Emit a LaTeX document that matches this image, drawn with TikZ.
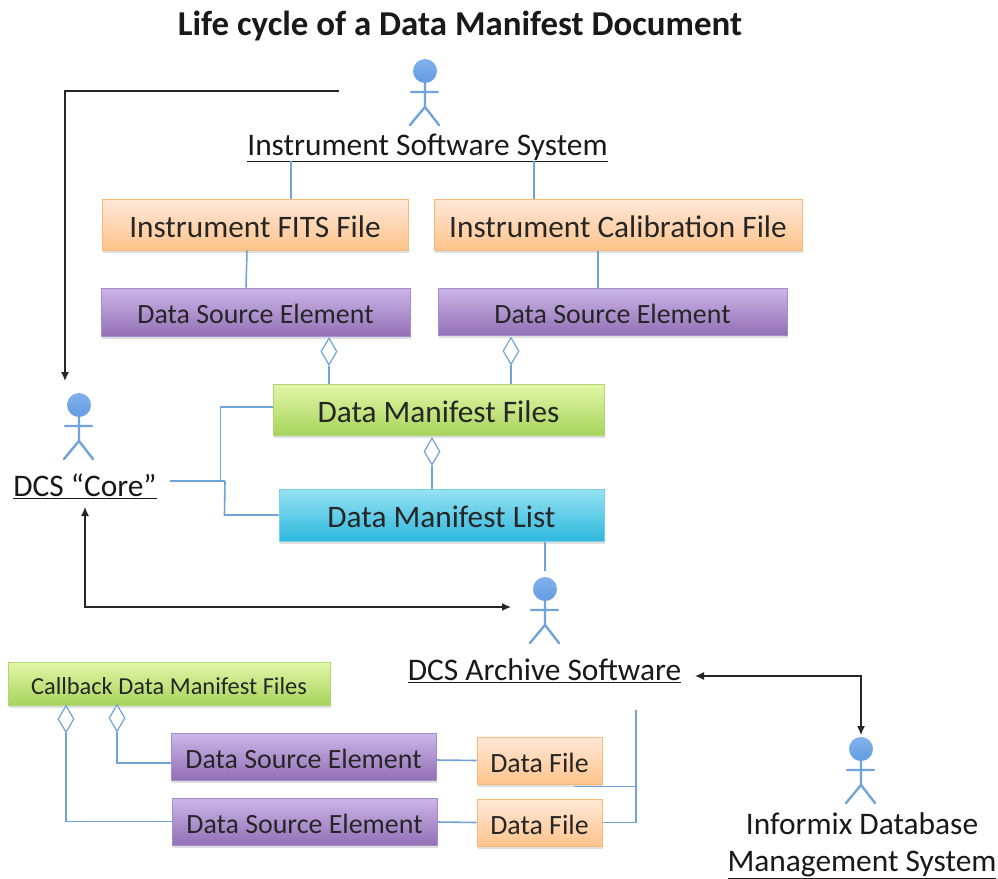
\documentclass[tikz,border=0pt]{standalone}
\usepackage{fontspec}
\setmainfont{Carlito}
\usetikzlibrary{shapes.geometric,shadows,arrows.meta}
\definecolor{lineblue}{RGB}{112,164,216}
\definecolor{headblue}{RGB}{98,156,226}
\definecolor{headtop}{RGB}{130,178,236}
\definecolor{orE}{RGB}{249,184,120}
\definecolor{orT}{RGB}{255,232,216}
\definecolor{orB}{RGB}{255,196,140}
\definecolor{puE}{RGB}{165,140,205}
\definecolor{puT}{RGB}{204,182,232}
\definecolor{puB}{RGB}{146,112,182}
\definecolor{grE}{RGB}{175,215,115}
\definecolor{grT}{RGB}{228,246,168}
\definecolor{grB}{RGB}{166,212,92}
\definecolor{cyE}{RGB}{120,210,235}
\definecolor{cyT}{RGB}{150,226,242}
\definecolor{cyB}{RGB}{46,184,222}
\tikzset{
  x=1pt,y=-1pt,
  box/.style={draw=#1,line width=1pt,rectangle,inner sep=0pt,text=black!85,
    general shadow={fill=black!35,opacity=.35,shadow xshift=0.5pt,shadow yshift=-2.5pt}},
  orangebox/.style={box=orE,top color=orT,bottom color=orB},
  purplebox/.style={box=puE,top color=puT,bottom color=puB},
  greenbox/.style={box=grE,top color=grT,bottom color=grB},
  cyanbox/.style={box=cyE,top color=cyT,bottom color=cyB},
  link/.style={draw=lineblue,line width=1.6pt},
  ctrl/.style={draw=black!85,line width=1.3pt,-{Latex[length=9pt,width=8pt]}},
  ctrltwo/.style={draw=black!85,line width=1.3pt,{Latex[length=9pt,width=8pt]}-{Latex[length=9pt,width=8pt]}},
  agg/.style={diamond,draw=lineblue,line width=1.2pt,fill=white,inner sep=0pt,minimum width=16pt,minimum height=27pt,aspect=.6},
  lbl/.style={inner sep=0pt,text=black!90,font=\fontsize{31.4}{37}\selectfont,align=center},
  boxbig/.style={font=\fontsize{31.3}{34}\selectfont,text height=25.5pt,text depth=0pt},
  boxmid/.style={font=\fontsize{27.9}{30}\selectfont,text height=23.6pt,text depth=0pt},
  boxsmall/.style={font=\fontsize{24.4}{28}\selectfont,text height=22.4pt,text depth=0pt},
  pics/actor/.style={code={
    \draw[draw=lineblue,line width=2.4pt,line cap=round] (0,12)--(0,36) (-14,21)--(13,21) (-15,54)--(0,36)--(14,54);
    \shade[top color=headtop,bottom color=headblue] (0,0) circle (12);
  }}
}
\begin{document}
\begin{tikzpicture}
\useasboundingbox (0,0) rectangle (998,878);
\fill[white] (0,0) rectangle (998,878);
\node[lbl,font=\fontsize{34.9}{36}\selectfont\bfseries] (title) at (460,25.5) {Life cycle of a Data Manifest Document};

% boxes
\node[orangebox,boxbig,minimum width=306pt,minimum height=51pt] (fits) at (255,224.5) {Instrument FITS File};
\node[orangebox,boxbig,minimum width=368pt,minimum height=51pt] (calib) at (618,224.5) {Instrument Calibration File};
\node[purplebox,boxmid,minimum width=309pt,minimum height=48pt] (dse1) at (255.5,312) {Data Source Element};
\node[purplebox,boxmid,minimum width=349pt,minimum height=47pt] (dse2) at (612.5,311.5) {Data Source Element};
\node[greenbox,boxbig,minimum width=331pt,minimum height=51pt] (dmf) at (438.5,409.5) {Data Manifest Files};
\node[cyanbox,boxbig,minimum width=325pt,minimum height=52pt] (dml) at (441.5,515) {Data Manifest List};
\node[greenbox,boxsmall,minimum width=322pt,minimum height=43pt] (cb) at (169,683.5) {Callback Data Manifest Files};
\node[purplebox,boxmid,minimum width=265pt,minimum height=47pt] (dse3) at (303.5,756.5) {Data Source Element};
\node[purplebox,boxmid,minimum width=265pt,minimum height=47pt] (dse4) at (304.5,821.5) {Data Source Element};
\node[orangebox,boxmid,minimum width=125pt,minimum height=47pt] (df1) at (539.5,760.5) {Data File};
\node[orangebox,boxmid,minimum width=125pt,minimum height=47pt] (df2) at (539.5,822.5) {Data File};

% actors
\pic at (425,71) {actor};
\pic at (79,405) {actor};
\pic at (545,589) {actor};
\pic at (861,749) {actor};

% labels
\node[lbl] (iss) at (427.5,148) {\underline{Instrument Software System}};
\node[lbl] (core) at (85,486.5) {\underline{DCS “Core”}};
\node[lbl] (arch) at (544.5,670.5) {\underline{DCS Archive Software}};
\node[lbl] (info) at (862,845.5) {Informix Database\\\underline{Management System}};

% free ends
\coordinate (isstail) at (339,91);
\coordinate (coretip) at (65,381);
\coordinate (archtop) at (545,571);
\coordinate (archleft) at (511,607);
\coordinate (coreup) at (85,507);
\coordinate (archright) at (695,676);
\coordinate (infotop) at (861,735);
\coordinate (coreright) at (170,481);
\coordinate (busj) at (225,481);
\coordinate (bustop) at (636,710);

% blue connectors
\draw[link] ([xshift=36pt]fits.north) -- ++(0,-38);
\draw[link] ([xshift=-84pt]calib.north) -- ++(0,-38);
\draw[link] ([xshift=-8pt]fits.south) -- ([xshift=-9.5pt]dse1.north);
\draw[link] ([xshift=-20pt]calib.south) -- ++(0,38);

\node[agg] (a1) at (329,351.5) {};
\node[agg] (a2) at (511,351) {};
\node[agg] (a3) at (432,451.5) {};
\node[agg] (a4) at (66,719) {};
\node[agg] (a5) at (117,718) {};

\draw[link] (a1.south) -- (a1.south |- dmf.north);
\draw[link] (a2.south) -- (a2.south |- dmf.north);
\draw[link] (a3.south) -- (a3.south |- dml.north);
\draw[link] ([yshift=2.5pt]dmf.west) -- ++(-52,0) -- ++(0,74);
\draw[link] (dml.west) -- ++(-54,0) -- (busj);
\draw[link] (coreright) -- (busj);
\draw[link] ([xshift=103.5pt]dml.south) -- (archtop);

\draw[link] (a5.south) |- ([yshift=-6.5pt]dse3.west);
\draw[link] (a4.south) |- (dse4.west);
\draw[link] ([yshift=-3.5pt]dse3.east) -- (df1.west);
\draw[link] ([yshift=-.5pt]dse4.east) -- (df2.west);
\draw[link] (bustop) |- (df2.east);
\draw[link] (bustop |- df1.south) ++(0,2) -- ++(-62,0);

% black connectors
\draw[ctrl] (isstail) -| (coretip);
\draw[ctrltwo] (coreup) |- (archleft);
\draw[ctrltwo] (archright) -| (infotop);
\end{tikzpicture}
\end{document}
